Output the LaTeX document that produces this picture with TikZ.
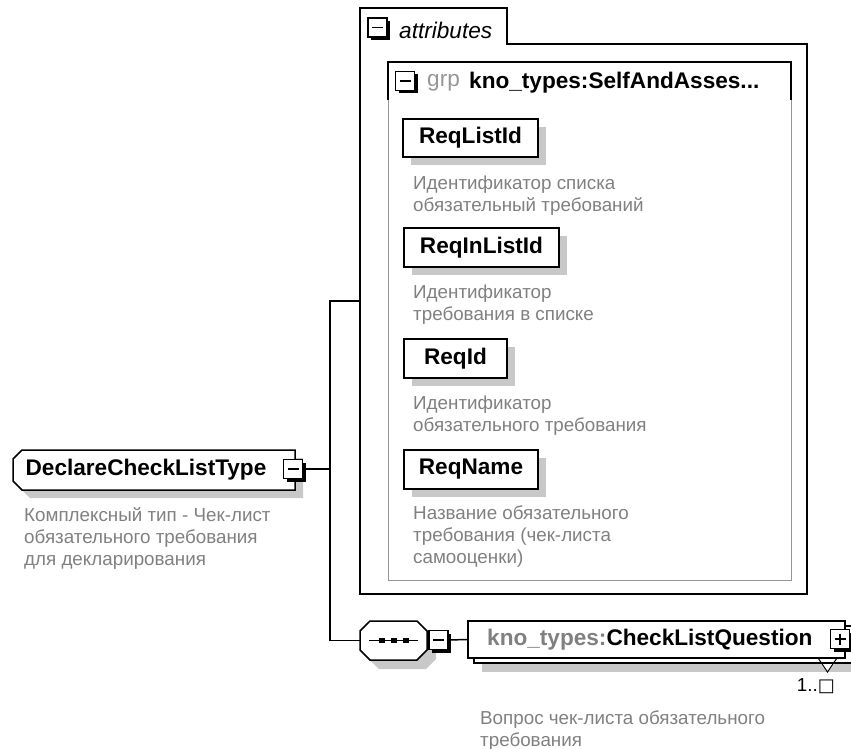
\documentclass[tikz,border=0pt]{standalone}
\usepackage{fontspec}
\setmainfont{Liberation Sans}
\newfontfamily\symfont{DejaVu Sans}
\usetikzlibrary{calc,shadows,backgrounds}
\definecolor{descgray}{RGB}{128,128,128}
\definecolor{shadowgray}{RGB}{200,200,200}
\definecolor{framegray}{RGB}{150,150,150}
\newcommand{\namefont}{\fontsize{22.6}{26}\selectfont\bfseries}
\newcommand{\descfont}{\fontsize{18.8}{22}\selectfont}
\begin{document}
\begin{tikzpicture}[x=1pt, y=-1pt,
  elem/.style={draw=black, line width=1.5pt, fill=white, inner sep=0pt, font=\namefont,
    general shadow={fill=shadowgray, shadow xshift=8pt, shadow yshift=-8pt}},
  desc/.style={anchor=north west, inner sep=0pt, align=left, font=\descfont, text=descgray},
  iconbox/.style={draw=black, line width=1.1pt, fill=white, inner sep=0pt, minimum size=19pt,
    general shadow={fill=black, shadow xshift=3pt, shadow yshift=-3pt}},
  minusbox/.style={iconbox, path picture={\draw[line width=1.3pt] ([xshift=4pt]path picture bounding box.west) -- ([xshift=-4pt]path picture bounding box.east);}},
  plusbox/.style={iconbox, path picture={\draw[line width=1.3pt] ([xshift=4pt]path picture bounding box.west) -- ([xshift=-4pt]path picture bounding box.east); \draw[line width=1.3pt] ([yshift=-4pt]path picture bounding box.north) -- ([yshift=4pt]path picture bounding box.south);}},
  conn/.style={draw=black, line width=1.5pt},
  lbl/.style={anchor=west, inner sep=0pt}
]
\useasboundingbox (0,0) rectangle (851,749);

% ---------- attributes frame ----------
\node[minimum width=447pt, minimum height=586pt, inner sep=0pt] (attrs) at (583.5,301) {};
\draw[line width=1.6pt] (360,594) -- (360,8) -- (507,8) -- (507,44) -- (807,44) -- (807,594) -- cycle;
\node[minusbox] (attrm) at (377.5,27.5) {};
\node[lbl, font=\fontsize{22.6}{26}\selectfont\itshape] (attrlbl) at (399,30) {attributes};

% ---------- group box ----------
\node[minimum width=403pt, minimum height=518pt, inner sep=0pt, draw=framegray, line width=1pt] (grp) at (589.5,321) {};
\draw[line width=1.4pt] (388,100) -- (388,62) -- (791,62) -- (791,100);
\node[minusbox] (grpm) at (405,81) {};
\node[lbl, font=\fontsize{22.6}{26}\selectfont, text=framegray] (grplbl) at (427,83) {grp};
\node[lbl, font=\namefont] (grpname) at (469,83) {kno\_types:SelfAndAsses...};

% ---------- attributes ----------
\node[elem, minimum width=135pt, minimum height=38pt] (e1) at (470.5,138) {ReqListId};
\node[desc] (d1) at (413,175.5) {Идентификатор списка\\обязательный требований};

\node[elem, minimum width=155pt, minimum height=39pt] (e2) at (481.5,247.5) {ReqInListId};
\node[desc] (d2) at (413,284.5) {Идентификатор\\требования в списке};

\node[elem, minimum width=103pt, minimum height=39pt] (e3) at (455.5,358.5) {ReqId};
\node[desc] (d3) at (413,395.5) {Идентификатор\\обязательного требования};

\node[elem, minimum width=134pt, minimum height=39pt] (e4) at (471,469.5) {ReqName};
\node[desc] (d4) at (413,505.5) {Название обязательного\\требования (чек-листа\\самооценки)};

% ---------- root ----------
\begin{scope}[on background layer]
  \fill[shadowgray] (30,458) -- (303,458) -- (303,498) -- (30,498) -- (21,489) -- (21,467) -- cycle;
  \filldraw[fill=white, draw=black, line width=1.5pt] (22,450) -- (295,450) -- (295,490) -- (22,490) -- (13,481) -- (13,459) -- cycle;
\end{scope}
\node[inner sep=0pt, minimum width=282pt, minimum height=40pt] (root) at (154,470) {};
\node[inner sep=0pt, font=\namefont] (rootlbl) at (146,470) {DeclareCheckListType};
\node[minusbox] (rootm) at (293,469) {};
\node[desc] (rootd) at (24,507.5) {Комплексный тип - Чек-лист\\обязательного требования\\для декларирования};

% ---------- sequence ----------
\begin{scope}[on background layer]
  \fill[shadowgray] (379,630) -- (426,630) -- (436,640) -- (436,659) -- (426,669) -- (379,669) -- (369,659) -- (369,640) -- cycle;
  \filldraw[fill=white, draw=black, line width=1.5pt] (370,621) -- (417,621) -- (427,631) -- (427,650) -- (417,660) -- (370,660) -- (360,650) -- (360,631) -- cycle;
\end{scope}
\node[inner sep=0pt, minimum width=67pt, minimum height=39pt] (seq) at (393.5,640.5) {};
\draw[line width=1.3pt] (369,640.5) -- (418,640.5);
\foreach \cx in {382,394,406} \fill (\cx-2.6,638) rectangle (\cx+2.6,643);
\node[minusbox] (seqm) at (438.5,640) {};

% ---------- CheckListQuestion ----------
\begin{scope}[on background layer]
  \fill[shadowgray] (482,634) rectangle (860,672);
  \filldraw[fill=white, draw=black, line width=1.5pt] (474,626) rectangle (852,663);
\end{scope}
\node[draw=black, fill=white, line width=1.5pt, inner sep=0pt, minimum width=377pt, minimum height=37pt] (clq) at (656.5,639.5) {};
\node[lbl, font=\namefont] (clqlbl) at (487,640) {\textcolor{descgray}{kno\_types:}CheckListQuestion};
\node[plusbox] (clqp) at (840,639) {};
\fill[white] (820.5,664) -- (834.5,664) -- (827.5,672) -- cycle;
\draw[line width=1pt] (818,658) -- (827.5,672) -- (837,658);
\node[anchor=east, inner sep=0pt, font=\descfont] (mult) at (835,686) {1..{\symfont\fontsize{18}{20}\selectfont □}};
\node[desc] (clqd) at (480,710.5) {Вопрос чек-листа обязательного\\требования};

% ---------- connectors ----------
\coordinate (busx) at (330,0);
\draw[conn] (rootm.east) -- (rootm.east -| busx);
\draw[conn] (attrs.west) -- (attrs.west -| busx) -- (seq.west -| busx) -- (seq.west);
\draw[conn] (seqm.east) -- (clq.west);
\end{tikzpicture}
\end{document}
